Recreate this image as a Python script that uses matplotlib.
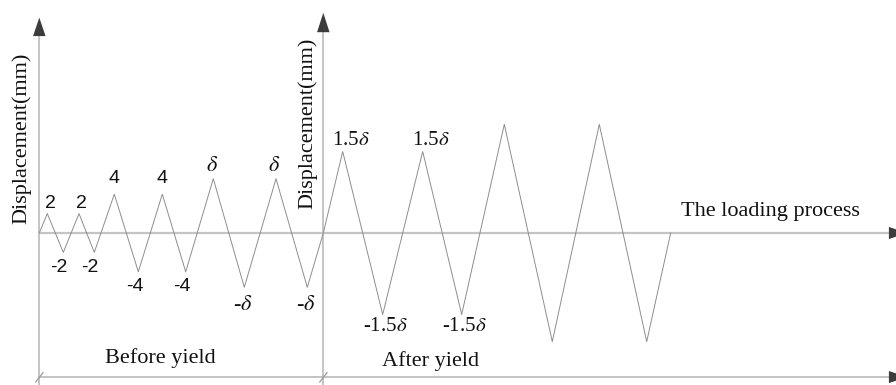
import numpy as np
import matplotlib.pyplot as plt

plt.rcParams['mathtext.fontset'] = 'stix'

# amplitude of the yield displacement (mm)
DELTA = 5.6

# loading history before yield: time step / displacement (mm)
t_before = [0, 0.8, 2.4, 3.97, 5.5, 7.5, 9.9, 12.3, 14.64, 17.4, 20.5, 23.67, 26.8, 28.4]
d_before = [0, 2, -2, 2, -2, 4, -4, 4, -4, DELTA, -DELTA, DELTA, -DELTA, 0]
lab_before = ['', '2', '-2', '2', '-2', '4', '-4', '4', '-4',
              r'$\delta$', r'-$\delta$', r'$\delta$', r'-$\delta$', '']

# loading history after yield
t_after = [28.4, 30.34, 34.34, 38.34, 42.24, 46.5, 51.3, 56.0, 60.74, 63.14]
d_after = [0, 1.5 * DELTA, -1.5 * DELTA, 1.5 * DELTA, -1.5 * DELTA,
           2 * DELTA, -2 * DELTA, 2 * DELTA, -2 * DELTA, 0]
lab_after = ['', r'1.5$\delta$', r'-1.5$\delta$', r'1.5$\delta$', r'-1.5$\delta$',
             '', '', '', '', '']

t_yield = t_after[0]
x_min, x_max = -3.93, 85.67
y_min, y_max = -15.67, 24.02
y_dim = -14.85   # level of the "before / after yield" dimension line

fig = plt.figure(figsize=(8.96, 3.85), dpi=100)
ax = fig.add_axes([0, 0, 1, 1])
ax.set_xlim(x_min, x_max)
ax.set_ylim(y_min, y_max)
ax.axis('off')

axis_col = '#b4b4b4'
head_col = '#3c3c3c'
serif = 'Liberation Serif'
sans = 'Liberation Sans'

# axes lines
ax.plot([0, 0], [y_min, 20.3], color=axis_col, lw=1.1, zorder=1)
ax.plot([t_yield, t_yield], [y_min, 20.7], color=axis_col, lw=1.1, zorder=1)
ax.plot([0, 85.0], [0, 0], color='#c4c4c4', lw=1.6, zorder=1)
ax.plot([0, 85.0], [y_dim, y_dim], color=axis_col, lw=1.1, zorder=1)

# arrow heads
hl_v, hw_v = 1.9, 1.25
ax.arrow(0, 20.3, 0, hl_v, width=0, head_width=hw_v, head_length=hl_v,
         length_includes_head=True, fc=head_col, ec='none', zorder=3)
ax.arrow(t_yield, 20.7, 0, hl_v + 0.1, width=0, head_width=hw_v, head_length=hl_v + 0.1,
         length_includes_head=True, fc=head_col, ec='none', zorder=3)
for yy in [0, y_dim]:
    ax.arrow(84.96, yy, 1.8, 0, width=0, head_width=1.25, head_length=1.8,
             length_includes_head=True, fc=head_col, ec='none', zorder=3, clip_on=True)

# small slash ticks on the dimension line
for xx in [0, t_yield]:
    ax.plot([xx - 0.35, xx + 0.37], [y_dim - 0.5, y_dim + 0.45], color='#9a9a9a', lw=0.9, zorder=2)

# loading curve
ax.plot(t_before + t_after[1:], d_before + d_after[1:], color='#8e8e8e', lw=0.7, zorder=2)

# peak labels
for t, d, s in zip(t_before + t_after, d_before + d_after, lab_before + lab_after):
    if not s:
        continue
    if 'delta' in s:
        fam, fs = serif, 15
        if '1.5' in s:
            off = (6, 8) if d > 0 else (2, -9)
        else:
            fs = 16
            off = (-1, 9) if d > 0 else (-1, -13)
    else:
        fam, fs = sans, 14
        if abs(d) < 3:
            off = (2, 7.5) if d > 0 else (-3, -11)
        else:
            off = (0, 11) if d > 0 else (-2.5, -10.5)
    ax.annotate(s, (t, d), xytext=off, textcoords='offset points',
                ha='center', va='center', fontsize=fs, family=fam, color='#111111')

# axis texts
ax.text(-1.73, 9.8, 'Displacement(mm)', rotation=90, ha='center', va='center',
        fontsize=16, family=serif, color='#111111')
ax.text(26.87, 11.3, 'Displacement(mm)', rotation=90, ha='center', va='center',
        fontsize=16, family=serif, color='#111111')
ax.text(73.07, 2.2, 'The loading process', ha='center', va='center',
        fontsize=16, family=serif, color='#111111')
ax.text(12.1, -12.9, 'Before yield', ha='center', va='center',
        fontsize=16, family=serif, color='#111111')
ax.text(39.1, -13.2, 'After yield', ha='center', va='center',
        fontsize=16, family=serif, color='#111111')

fig.savefig('out.png', dpi=100)
